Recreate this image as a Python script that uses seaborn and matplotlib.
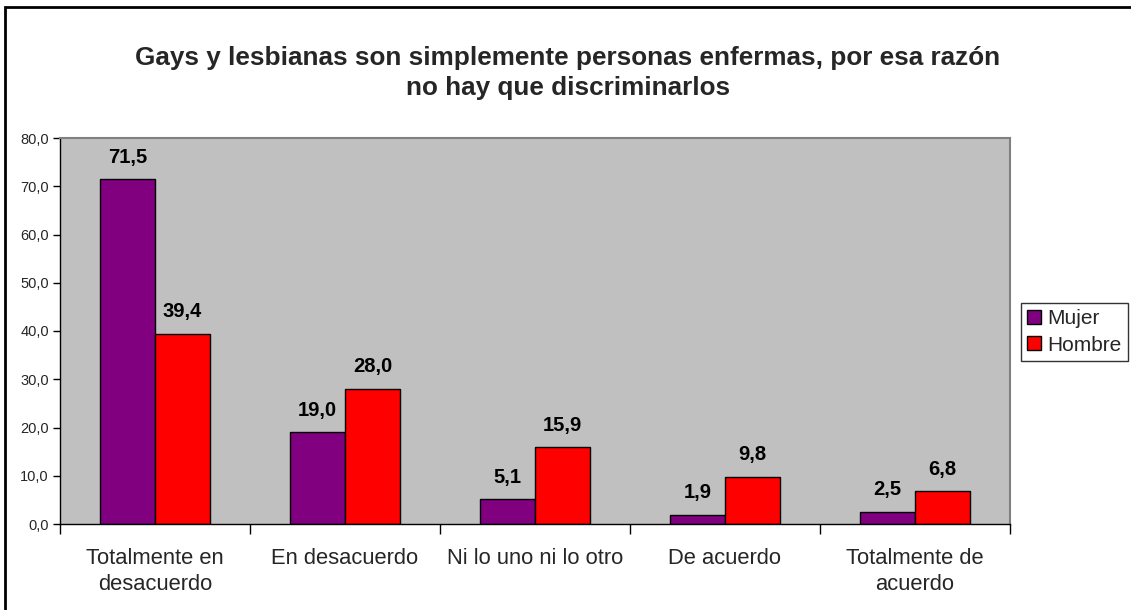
import pandas as pd
import seaborn as sns
import matplotlib.pyplot as plt
from matplotlib.patches import Rectangle
from matplotlib.ticker import FixedLocator, FuncFormatter

# Data
categories = ['Totalmente en\ndesacuerdo', 'En desacuerdo', 'Ni lo uno ni lo otro',
              'De acuerdo', 'Totalmente de\nacuerdo']
mujer = [71.5, 19.0, 5.1, 1.9, 2.5]
hombre = [39.4, 28.0, 15.9, 9.8, 6.8]
series_names = ['Mujer', 'Hombre']
y_ticks = [0, 10, 20, 30, 40, 50, 60, 70, 80]

df = pd.DataFrame({
    'categoria': categories * 2,
    'valor': mujer + hombre,
    'sexo': [series_names[0]] * len(mujer) + [series_names[1]] * len(hombre),
})

sns.set_style('white')
plt.rcParams['font.family'] = ['Liberation Sans', 'DejaVu Sans']

fig = plt.figure(figsize=(11.31, 6.10), dpi=100)
ax = fig.add_axes([60 / 1131, 86 / 610, 950 / 1131, 386 / 610])

sns.barplot(data=df, x='categoria', y='valor', hue='sexo', order=categories,
            hue_order=series_names, palette=['#800080', '#FF0000'],
            width=0.58, edgecolor='black', linewidth=1, saturation=1,
            legend=True, ax=ax)

ax.set_facecolor('#C0C0C0')
ax.set_ylim(0, 80)
ax.set_xlim(-0.5, len(categories) - 0.5)
ax.set_xlabel('')
ax.set_ylabel('')

for container in ax.containers:
    ax.bar_label(container, labels=[f"{v:.1f}".replace('.', ',') for v in container.datavalues],
                 padding=9, fontsize=14.5, fontweight='bold', color='black')

# y axis
ax.yaxis.set_major_locator(FixedLocator(y_ticks))
ax.yaxis.set_major_formatter(FuncFormatter(lambda v, p: f"{v:.1f}".replace('.', ',')))
ax.tick_params(axis='y', direction='out', length=5, width=1, color='black',
               labelsize=10.5, pad=3, left=True)

# x axis: labels at centers, ticks at category boundaries
ax.tick_params(axis='x', which='major', length=0, labelsize=15.8, pad=17)
for lbl in ax.get_xticklabels():
    lbl.set_linespacing(1.35)
ax.xaxis.set_minor_locator(FixedLocator([i - 0.5 for i in range(len(categories) + 1)]))
ax.tick_params(axis='x', which='minor', direction='out', length=7, width=1,
               color='black', bottom=True)

for side in ['top', 'right']:
    ax.spines[side].set_color('#808080')
    ax.spines[side].set_linewidth(1.5)
for side in ['left', 'bottom']:
    ax.spines[side].set_color('black')
    ax.spines[side].set_linewidth(1)
ax.grid(False)

# legend
handles, labels = ax.get_legend_handles_labels()
ax.get_legend().remove()
leg = fig.legend(handles, labels, loc='center left',
                 bbox_to_anchor=(1021 / 1131, 1 - 332 / 610),
                 fontsize=15, frameon=True, fancybox=False, edgecolor='black',
                 handlelength=0.65, handleheight=0.65, handletextpad=0.3,
                 labelspacing=0.35, borderpad=0.3, borderaxespad=0)
leg.get_frame().set_linewidth(1)

fig.text(0.502, 1 - 73 / 610,
         'Gays y lesbianas son simplemente personas enfermas, por esa razón\nno hay que discriminarlos',
         ha='center', va='center', fontsize=18.8, fontweight='bold', linespacing=1.35)

# outer chart border
fig.patches.append(Rectangle((5 / 1131, -0.05), 1.1, 1 - 7 / 610 + 0.05,
                             transform=fig.transFigure, fill=False,
                             edgecolor='black', linewidth=2))

fig.savefig('out.png', dpi=100)
